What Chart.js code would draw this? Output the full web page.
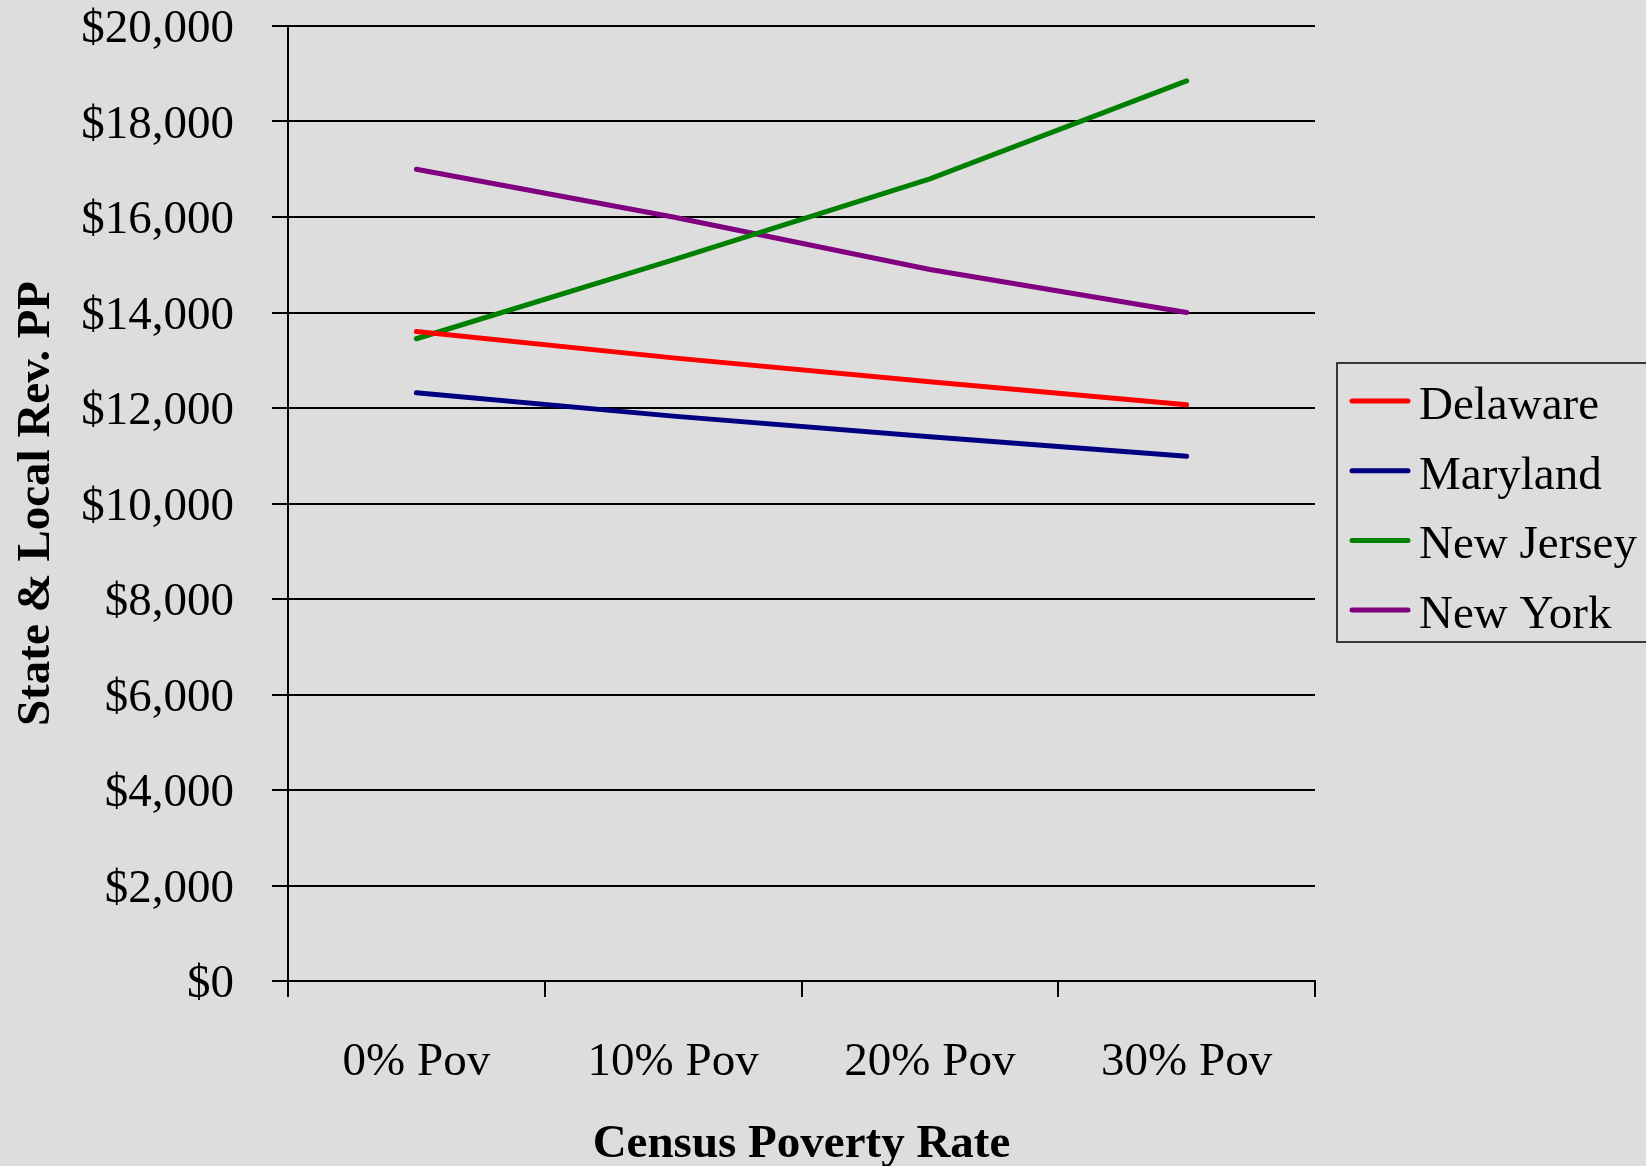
<!DOCTYPE html>
<html>
<head>
<meta charset="utf-8">
<script src="https://cdn.jsdelivr.net/npm/chart.js@4/dist/chart.umd.min.js"></script>
<style>
  html, body { margin: 0; padding: 0; background: #dddddd; }
  canvas { display: block; }
</style>
</head>
<body>
<canvas id="c" width="1646" height="1166"></canvas>
<script>
const categories = ['0% Pov', '10% Pov', '20% Pov', '30% Pov'];
const delaware  = [13600, 13050, 12550, 12070];
const maryland  = [12320, 11830, 11400, 10990];
const newJersey = [13450, 15100, 16800, 18850];
const newYork   = [17000, 16000, 14900, 14000];
const seriesNames = ['Delaware', 'Maryland', 'New Jersey', 'New York'];
const seriesColors = ['#ff0000', '#000080', '#008000', '#800080'];
const yMin = 0, yMax = 20000, yStep = 2000;
const xTitle = 'Census Poverty Rate';
const yTitle = 'State & Local Rev. PP';

const FONT = "'Liberation Serif', 'Times New Roman', serif";

const bgPlugin = {
  id: 'bg',
  beforeDraw(chart) {
    const ctx = chart.ctx;
    ctx.save();
    ctx.fillStyle = '#dddddd';
    ctx.fillRect(0, 0, chart.width, chart.height);
    ctx.restore();
  }
};

const legendPlugin = {
  id: 'boxLegend',
  afterDraw(chart) {
    const ctx = chart.ctx;
    ctx.save();
    ctx.strokeStyle = '#000';
    ctx.lineWidth = 1.5;
    ctx.strokeRect(1337, 363, 340, 279);
    ctx.font = '47px ' + FONT;
    ctx.textBaseline = 'alphabetic';
    ctx.textAlign = 'left';
    chart.data.datasets.forEach((ds, i) => {
      const base = 419 + i * 69.7;
      const ly = base - 18;
      ctx.strokeStyle = ds.borderColor;
      ctx.lineWidth = 5;
      ctx.lineCap = 'round';
      ctx.beginPath();
      ctx.moveTo(1352, ly);
      ctx.lineTo(1408, ly);
      ctx.stroke();
      ctx.fillStyle = '#000';
      ctx.fillText(ds.label, 1419, base);
    });
    ctx.restore();
  }
};

const datasets = [delaware, maryland, newJersey, newYork].map((d, i) => ({
  label: seriesNames[i],
  data: d,
  borderColor: seriesColors[i],
  backgroundColor: seriesColors[i],
  borderWidth: 5,
  pointRadius: 0,
  tension: 0,
  fill: false,
  borderCapStyle: 'round'
}));

new Chart(document.getElementById('c'), {
  type: 'line',
  data: { labels: categories, datasets },
  options: {
    responsive: false,
    animation: false,
    layout: { autoPadding: false, padding: { left: 0, top: 26, right: 331, bottom: 0 } },
    plugins: { legend: { display: false }, tooltip: { enabled: false } },
    scales: {
      x: {
        offset: true,
        grid: {
          offset: true,
          display: true,
          drawOnChartArea: true,
          color: (c) => (c.index === 0 || c.index === categories.length) ? '#000' : 'rgba(0,0,0,0)',
          tickColor: '#000',
          lineWidth: 2,
          tickLength: 16,
          tickWidth: 2
        },
        border: { display: true, color: '#000', width: 2 },
        ticks: {
          color: '#000',
          padding: 37,
          maxRotation: 0,
          autoSkip: false,
          font: { family: FONT, size: 47, lineHeight: 1.2 }
        },
        title: {
          display: true,
          text: xTitle,
          color: '#000',
          font: { family: FONT, size: 47, weight: 'bold', lineHeight: 1 },
          padding: { top: 0, bottom: -2 }
        },
        afterFit: (s) => { s.height = 185; s.paddingLeft = 0; s.paddingRight = 0; }
      },
      y: {
        min: yMin,
        max: yMax,
        grid: { color: '#000', lineWidth: 2, tickLength: 16, tickColor: '#000', tickWidth: 2 },
        border: { display: true, color: '#000', width: 2 },
        ticks: {
          stepSize: yStep,
          color: '#000',
          padding: 38,
          labelOffset: 4,
          font: { family: FONT, size: 47, lineHeight: 1 },
          callback: (v) => '$' + Number(v).toLocaleString('en-US')
        },
        title: {
          display: true,
          text: yTitle,
          color: '#000',
          font: { family: FONT, size: 47, weight: 'bold', lineHeight: 1.2 },
          padding: { top: 9, bottom: 0 }
        },
        afterFit: (s) => { s.width = 288; s.paddingTop = 0; s.paddingBottom = 0; }
      }
    }
  },
  plugins: [bgPlugin, legendPlugin]
});
</script>
</body>
</html>
